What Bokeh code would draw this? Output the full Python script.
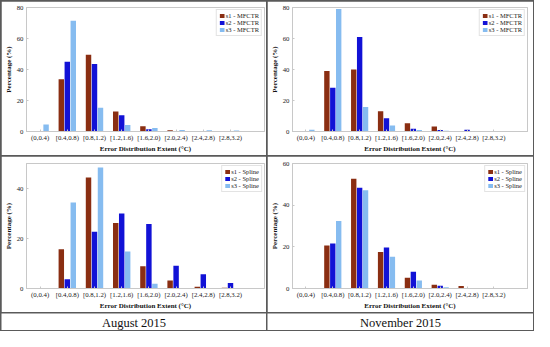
from bokeh.plotting import figure
from bokeh.layouts import row, column
from bokeh.models import FixedTicker, ColumnDataSource, Range1d, Legend, LegendItem
from bokeh.transform import dodge
from bokeh.core.properties import value
from bokeh.embed import file_html
from bokeh.resources import INLINE

categories = ["(0,0.4)", "[0.4,0.8)", "[0.8,1.2)", "[1.2,1.6)", "[1.6,2.0)",
              "[2.0,2.4)", "[2.4,2.8)", "[2.8,3.2)"]
period_labels = ["August 2015", "November 2015"]
x_title = "Error Distribution Extent (°C)"
y_title = "Percentage (%)"

aug_mfctr_s1 = [0, 33.7, 49.5, 12.9, 3.4, 0.8, 0.2, 0]
aug_mfctr_s2 = [0, 45.0, 43.5, 10.5, 1.4, 0.4, 0.1, 0]
aug_mfctr_s3 = [4.5, 71.5, 15.4, 4.2, 2.2, 1.0, 0.8, 0.6]

nov_mfctr_s1 = [0, 39.0, 40.0, 13.0, 5.3, 3.2, 0.3, 0.3]
nov_mfctr_s2 = [0, 28.3, 61.0, 8.5, 1.8, 1.0, 1.2, 0]
nov_mfctr_s3 = [1.2, 79.0, 15.8, 3.8, 1.0, 0.5, 0.2, 0]

aug_spline_s1 = [0, 15.7, 44.4, 26.2, 8.9, 3.2, 0.7, 0.3]
aug_spline_s2 = [0, 3.7, 22.7, 30.0, 25.8, 9.1, 5.7, 2.2]
aug_spline_s3 = [0, 34.4, 48.4, 14.8, 1.9, 0.2, 0, 0]

nov_spline_s1 = [0, 20.6, 52.7, 17.5, 5.2, 1.8, 1.2, 0.3]
nov_spline_s2 = [0, 21.6, 48.4, 19.7, 8.1, 1.3, 0.1, 0]
nov_spline_s3 = [0, 32.4, 47.2, 15.2, 3.9, 0.6, 0, 0]

C1 = "#8a2e12"
C2 = "#1212d6"
C3 = "#86bcf0"
FONT = "Liberation Serif"
TXT = "#222222"
LIGHT = "#c8c8c8"


def panel(s1, s2, s3, method, ymax, yticks, w, h, ml, mr, mt, mb):
    p = figure(width=w, height=h, x_range=Range1d(0.5, 9.25), y_range=Range1d(0, ymax),
               output_backend="svg", toolbar_location=None,
               min_border_left=ml, min_border_right=mr, min_border_top=mt, min_border_bottom=mb,
               background_fill_color="white", border_fill_color="white",
               outline_line_color=LIGHT)
    src = ColumnDataSource(dict(x=list(range(1, len(categories) + 1)), s1=s1, s2=s2, s3=s3))
    rs = []
    for key, off, col in (("s1", -0.22, C1), ("s2", 0.0, C2), ("s3", 0.22, C3)):
        rs.append(p.vbar(x=dodge("x", off, range=p.x_range), top=key, width=0.2, source=src,
                         fill_color=col, line_color=None))
    p.grid.visible = False
    p.xaxis.ticker = FixedTicker(ticks=list(range(1, len(categories) + 1)))
    p.xaxis.major_label_overrides = {i + 1: c for i, c in enumerate(categories)}
    p.yaxis.ticker = FixedTicker(ticks=yticks)
    for ax in (p.xaxis[0], p.yaxis[0]):
        ax.axis_line_color = LIGHT
        ax.major_tick_line_color = LIGHT
        ax.minor_tick_line_color = None
        ax.major_tick_in = 2
        ax.major_tick_out = 0
        ax.major_label_text_font = FONT
        ax.major_label_text_font_size = "6.8px"
        ax.major_label_text_color = TXT
        ax.axis_label_text_font = FONT
        ax.axis_label_text_font_size = "7px"
        ax.axis_label_text_font_style = "bold"
        ax.axis_label_text_color = "#111111"
    p.xaxis.axis_label = x_title
    p.yaxis.axis_label = y_title
    p.xaxis.major_label_standoff = 2
    p.xaxis.axis_label_standoff = 1
    p.yaxis.major_label_standoff = 3
    p.yaxis.axis_label_standoff = 1
    items = [LegendItem(label="%s - %s" % (k, method), renderers=[r])
             for k, r in zip(("s1", "s2", "s3"), rs)]
    lg = Legend(items=items, location="top_right")
    lg.margin = 2
    lg.padding = 2
    lg.spacing = 0
    lg.glyph_width = 6
    lg.glyph_height = 5
    lg.label_height = 5
    lg.label_standoff = 1
    lg.label_text_font = FONT
    lg.label_text_font_size = "6.5px"
    lg.label_text_color = TXT
    lg.border_line_color = LIGHT
    lg.background_fill_alpha = 1
    p.add_layout(lg)
    return p


def label_fig(txt, w, h):
    p = figure(width=w, height=h, x_range=Range1d(0, 1), y_range=Range1d(0, 1),
               output_backend="svg", toolbar_location=None,
               x_axis_location=None, y_axis_location=None, min_border=0,
               outline_line_color=None, background_fill_color="white", border_fill_color="white")
    p.grid.visible = False
    p.text(x=[0.5], y=[0.45], text=[txt], text_align="center", text_baseline="middle",
           text_font=value(FONT), text_font_size="12.5px", text_color="#111111")
    return p


p1 = panel(aug_mfctr_s1, aug_mfctr_s2, aug_mfctr_s3, "MFCTR", 80, [0, 20, 40, 60, 80],
           265, 154, 19, 2, 6, 18)
p2 = panel(nov_mfctr_s1, nov_mfctr_s2, nov_mfctr_s3, "MFCTR", 80, [0, 20, 40, 60, 80],
           266, 154, 18, 6, 6, 18)
p3 = panel(aug_spline_s1, aug_spline_s2, aug_spline_s3, "Spline", 50, [0, 20, 40],
           265, 156, 20, 2, 4, 20)
p4 = panel(nov_spline_s1, nov_spline_s2, nov_spline_s3, "Spline", 60, [0, 20, 40, 60],
           266, 156, 20, 6, 7, 20)
l1 = label_fig(period_labels[0], 265, 17)
l2 = label_fig(period_labels[1], 266, 17)

grid = column(row(p1, p2, spacing=1), row(p3, p4, spacing=1), row(l1, l2, spacing=1),
              spacing=1, styles={"background-color": "#5a5a5a", "padding": "1px"})

open("out.html", "w").write(file_html(grid, INLINE))
